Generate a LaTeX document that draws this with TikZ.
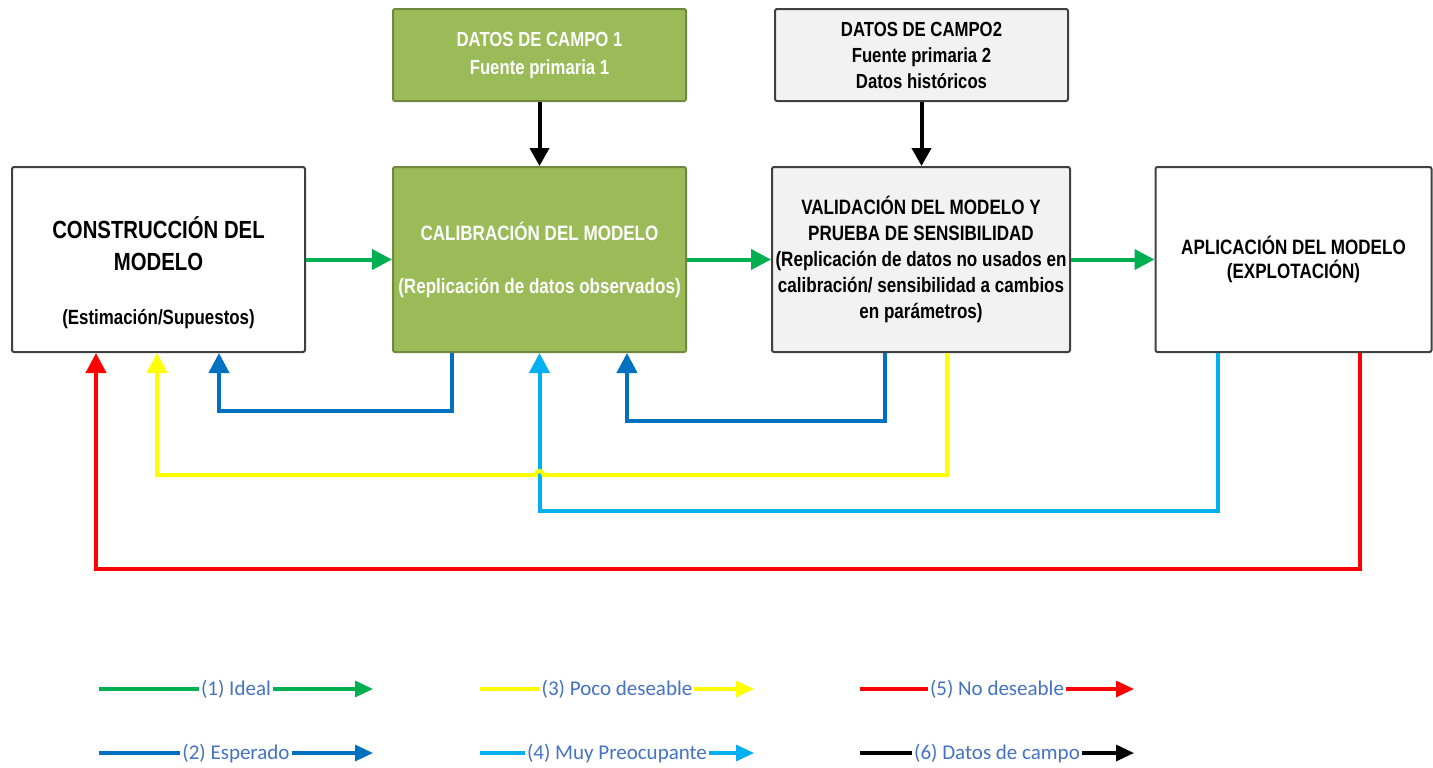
\documentclass[tikz,border=0pt]{standalone}
\usepackage{fontspec}
\setmainfont{Liberation Sans}[FakeStretch=0.82]
\newfontfamily\legendafont{Carlito}
\usetikzlibrary{arrows.meta,calc}

\definecolor{verde}{RGB}{0,176,80}
\definecolor{blu}{RGB}{0,112,192}
\definecolor{giallo}{RGB}{255,255,0}
\definecolor{celeste}{RGB}{0,176,240}
\definecolor{rosso}{RGB}{255,0,0}
\definecolor{nero}{RGB}{0,0,0}
\definecolor{verdebox}{RGB}{155,187,89}
\definecolor{bordoverde}{RGB}{113,137,63}
\definecolor{grigio}{RGB}{242,242,242}
\definecolor{bordo}{RGB}{64,64,64}
\definecolor{testoleg}{RGB}{68,114,196}

\tikzset{
  scatola/.style={draw=bordo, line width=1pt, rounded corners=1pt, align=center,
    inner sep=0pt, minimum width=146.5pt, minimum height=92.5pt,
    font=\bfseries\fontsize{10.4}{13}\selectfont},
  scatolaverde/.style={scatola, draw=bordoverde, fill=verdebox, text=white},
  freccia/.style={line width=2pt, -{Triangle[length=10pt,width=10pt]}},
  frecciadati/.style={line width=2pt, nero, -{Triangle[length=9pt,width=9.5pt]}},
  frecciasmall/.style={line width=1.6pt, -{Triangle[length=9pt,width=8pt]}},
  legenda/.style={fill=white, inner xsep=1pt, inner ysep=0pt, text=testoleg,
    font=\legendafont\fontsize{10.5}{12}\selectfont}
}

\begin{document}
\begin{tikzpicture}[x=0.5pt, y=-0.5pt]
    \useasboundingbox (0,0) rectangle (1433,767);

    % le sei scatole
    \node[scatola, font=\bfseries\fontsize{12.4}{16}\selectfont] (cons) at (158.5,259.5)
        {\rule{0pt}{24pt}CONSTRUCCIÓN DEL\\ MODELO\\[11pt]{\fontsize{10.3}{12}\selectfont (Estimación/Supuestos)}};
    \node[scatolaverde] (calib) at (539.5,259.5)
        {CALIBRACIÓN DEL MODELO\\[13.5pt] (Replicación de datos observados)};
    \node[scatolaverde, minimum height=46pt, font=\bfseries\fontsize{10.2}{14}\selectfont] (campo1) at (539.5,55)
        {DATOS DE CAMPO 1\\ Fuente primaria 1};
    \node[scatola, fill=grigio, minimum height=46pt, font=\bfseries\fontsize{10.2}{13}\selectfont] (campo2) at (921.5,55)
        {DATOS DE CAMPO2\\ Fuente primaria 2\\ Datos históricos};
    \node[scatola, fill=grigio, minimum width=149pt] (valid) at (921,259.5)
        {VALIDACIÓN DEL MODELO Y\\ PRUEBA DE SENSIBILIDAD\\ (Replicación de datos no usados en\\
         calibración/ sensibilidad a cambios\\ en parámetros)};
    \node[scatola, minimum width=138pt, font=\bfseries\fontsize{10.4}{12}\selectfont] (aplic) at (1293.5,259.5)
        {APLICACIÓN DEL MODELO\\ (EXPLOTACIÓN)};

    % frecce principali
    \draw[freccia, verde] (cons) -- (calib);
    \draw[freccia, verde] (calib) -- (valid);
    \draw[freccia, verde] (valid) -- (aplic);
    \draw[frecciadati] (campo1) -- (calib);
    \draw[frecciadati] (campo2.south) -- (campo2.south |- valid.north);

    % ritorni
    \draw[freccia, blu] ($(calib.south west)+(60,0)$) |- ($(cons.south west)+(208,58)$)
        -- ($(cons.south west)+(208,0)$);
    \draw[freccia, blu] ($(valid.south west)+(114,0)$) |- ($(calib.south west)+(235,68)$)
        -- ($(calib.south west)+(235,0)$);
    \draw[freccia, celeste] ($(aplic.south west)+(63,0)$) |- ($(calib.south)+(0,158)$)
        -- (calib.south);
    \draw[freccia, giallo] ($(valid.south west)+(176,0)$) |- ($(calib.south)+(4,122)$)
        arc[start angle=0, end angle=180, radius=2pt] -| ($(cons.south west)+(146,0)$);
    \draw[freccia, rosso] ($(aplic.south west)+(205,0)$) |- ($(cons.south west)+(85,216)$)
        -- ($(cons.south west)+(85,0)$);

    % legenda
    \foreach \col/\testo/\x/\y [count=\i] in {verde/{(1) Ideal}/99/689, blu/{(2) Esperado}/99/753,
        giallo/{(3) Poco deseable}/480/689, celeste/{(4) Muy Preocupante}/480/753,
        rosso/{(5) No deseable}/860/689, nero/{(6) Datos de campo}/860/753} {
        \coordinate (leg\i a) at (\x,\y);
        \coordinate (leg\i b) at (\x+274,\y);
        \draw[frecciasmall, \col] (leg\i a) -- node[legenda, name=leg\i t] {\testo} (leg\i b);
    }
\end{tikzpicture}
\end{document}
